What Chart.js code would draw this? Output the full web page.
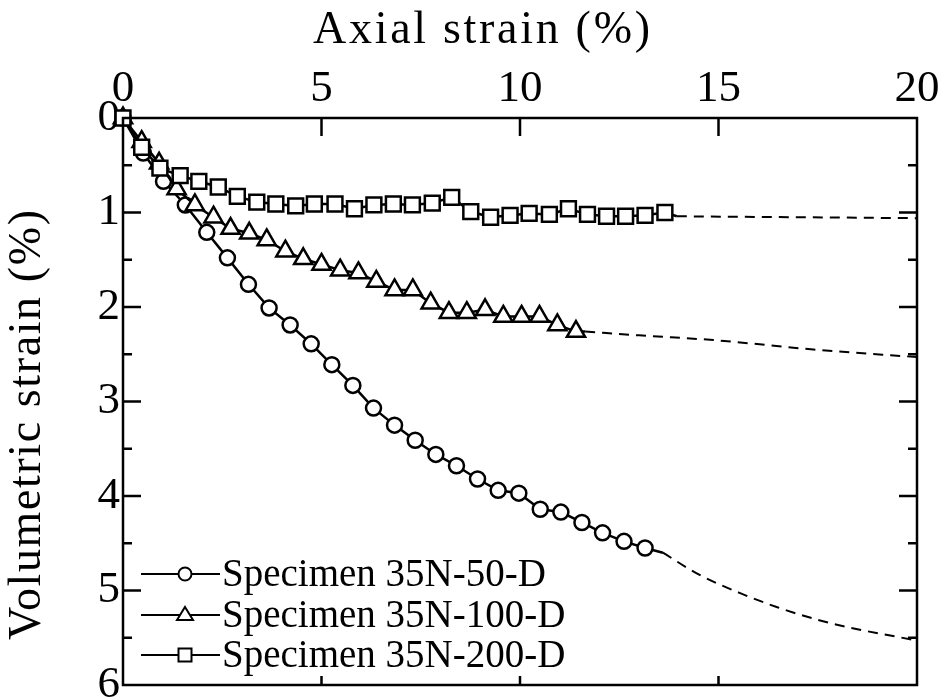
<!DOCTYPE html>
<html>
<head>
<meta charset="utf-8">
<script src="https://cdn.jsdelivr.net/npm/chart.js@4/dist/chart.umd.min.js"></script>
<style>
 body { margin: 0; background: #fff; }
 #wrap { width: 946px; height: 700px; position: relative; }
</style>
</head>
<body>
<div id="wrap"><canvas id="strainChart"></canvas></div>
<script>
// values (axial strain %, volumetric strain %)
var xTickLabels = ["0", "5", "10", "15", "20"];
var yTickLabels = ["0", "1", "2", "3", "4", "5", "6"];
var xTitle = "Axial strain (%)";
var yTitle = "Volumetric strain (%)";

var labels50 = "Specimen 35N-50-D";
var axial50 = [0, 0.51, 1.02, 1.57, 2.11, 2.63, 3.16, 3.68, 4.21, 4.74, 5.26, 5.79, 6.31, 6.84, 7.36, 7.88, 8.40, 8.93, 9.45, 9.97, 10.51, 11.03, 11.56, 12.08, 12.62, 13.15, 13.6];
var vol50 = [0, 0.37, 0.67, 0.92, 1.21, 1.48, 1.76, 2.01, 2.19, 2.39, 2.61, 2.83, 3.07, 3.25, 3.41, 3.56, 3.68, 3.82, 3.94, 3.97, 4.14, 4.17, 4.28, 4.39, 4.48, 4.55, 4.60];
var trendAxial50 = [13.6, 14.5, 15.5, 16.5, 17.5, 18.5, 19.5, 20];
var trendVol50 = [4.60, 4.83, 5.02, 5.18, 5.31, 5.41, 5.49, 5.53];

var labels100 = "Specimen 35N-100-D";
var axial100 = [0, 0.47, 0.91, 1.35, 1.81, 2.28, 2.71, 3.18, 3.62, 4.09, 4.54, 5.00, 5.47, 5.93, 6.38, 6.84, 7.30, 7.75, 8.21, 8.66, 9.12, 9.58, 10.04, 10.49, 10.94, 11.41, 11.64];
var vol100 = [0, 0.25, 0.48, 0.75, 0.92, 1.05, 1.17, 1.22, 1.29, 1.41, 1.49, 1.55, 1.61, 1.64, 1.73, 1.82, 1.82, 1.96, 2.06, 2.06, 2.03, 2.10, 2.10, 2.10, 2.19, 2.26, 2.26];
var trendAxial100 = [11.64, 13.0, 14.87, 17.39, 20];
var trendVol100 = [2.26, 2.30, 2.35, 2.45, 2.53];

var labels200 = "Specimen 35N-200-D";
var axial200 = [0, 0.47, 0.93, 1.44, 1.91, 2.40, 2.88, 3.37, 3.85, 4.35, 4.82, 5.34, 5.83, 6.32, 6.81, 7.29, 7.79, 8.28, 8.76, 9.26, 9.75, 10.23, 10.74, 11.22, 11.70, 12.18, 12.66, 13.15, 13.65, 13.95];
var vol200 = [0, 0.31, 0.53, 0.61, 0.67, 0.73, 0.83, 0.89, 0.91, 0.93, 0.91, 0.91, 0.96, 0.92, 0.91, 0.92, 0.90, 0.84, 0.99, 1.05, 1.03, 1.01, 1.02, 0.96, 1.02, 1.04, 1.04, 1.03, 1.00, 1.04];
var trendAxial200 = [13.95, 20];
var trendVol200 = [1.04, 1.06];

var serif = "'Liberation Serif', 'Times New Roman', serif";

function toPoints(xs, ys) {
 return xs.map(function (x, i) {
  return { x: x, y: ys[i] };
 });
}

// last point of each measured series is the end of the line, no marker
function markerSize(size) {
 return function (ctx) {
  var n = ctx.dataset.data.length;
  return ctx.dataIndex === n - 1 ? 0 : size;
 };
}

function measured(label, xs, ys, style, size, order) {
 return {
  label: label,
  data: toPoints(xs, ys),
  borderColor: "#000",
  borderWidth: 2.5,
  pointStyle: style,
  pointRadius: markerSize(size),
  pointBackgroundColor: "#fff",
  pointBorderColor: "#000",
  pointBorderWidth: 2.5,
  order: order,
  clip: false,
 };
}

function trend(xs, ys) {
 return {
  label: "",
  data: toPoints(xs, ys),
  borderColor: "#000",
  borderWidth: 2,
  borderDash: [10, 7],
  pointRadius: 0,
  cubicInterpolationMode: "monotone",
  order: 4,
  clip: false,
 };
}

// draw text spread to a given width
function spreadText(ctx, text, x, y, width) {
 ctx.letterSpacing = "0px";
 var natural = ctx.measureText(text).width;
 var gap = Math.max(0, (width - natural) / (text.length - 1));
 ctx.letterSpacing = gap + "px";
 ctx.fillText(text, x, y);
 ctx.letterSpacing = "0px";
}

// frame with inward ticks, axis titles and legend inside the plot
var framePlugin = {
 id: "frame",
 afterDatasetsDraw: function (chart) {
  var ctx = chart.ctx;
  var a = chart.chartArea;
  var xs = chart.scales.x;
  var ys = chart.scales.y;
  ctx.save();
  ctx.strokeStyle = "#000";
  ctx.lineWidth = 2.5;
  ctx.strokeRect(a.left, a.top, a.right - a.left, a.bottom - a.top);

  ctx.beginPath();
  for (var v = 5; v < 20; v += 5) {
   var px = xs.getPixelForValue(v);
   ctx.moveTo(px, a.top);
   ctx.lineTo(px, a.top + 18);
   ctx.moveTo(px, a.bottom);
   ctx.lineTo(px, a.bottom - 9);
  }
  for (var w = 0.5; w < 6; w += 0.5) {
   var py = ys.getPixelForValue(w);
   var len = (w % 1 === 0) ? 18 : 9;
   ctx.moveTo(a.left, py);
   ctx.lineTo(a.left + len, py);
   ctx.moveTo(a.right, py);
   ctx.lineTo(a.right - len, py);
  }
  ctx.stroke();

  // axis titles
  ctx.fillStyle = "#000";
  ctx.font = "46px " + serif;
  ctx.textBaseline = "middle";
  ctx.textAlign = "left";
  spreadText(ctx, xTitle, 313, 31, 337);
  ctx.save();
  ctx.translate(28, 640);
  ctx.rotate(-Math.PI / 2);
  spreadText(ctx, yTitle, 0, 0, 430);
  ctx.restore();

  // legend
  var rows = [
   { text: labels50, style: "circle", y: 574 },
   { text: labels100, style: "triangle", y: 615 },
   { text: labels200, style: "rect", y: 655 },
  ];
  ctx.font = "39px " + serif;
  ctx.lineWidth = 2;
  rows.forEach(function (r) {
   ctx.beginPath();
   ctx.moveTo(141, r.y);
   ctx.lineTo(220, r.y);
   ctx.stroke();
   var cx = 185;
   ctx.beginPath();
   if (r.style === "circle") {
    ctx.arc(cx, r.y, 6.5, 0, Math.PI * 2);
   } else if (r.style === "triangle") {
    ctx.moveTo(cx, r.y - 8);
    ctx.lineTo(cx + 8, r.y + 5);
    ctx.lineTo(cx - 8, r.y + 5);
    ctx.closePath();
   } else {
    ctx.rect(cx - 6.5, r.y - 6.5, 13, 13);
   }
   ctx.fillStyle = "#fff";
   ctx.fill();
   ctx.stroke();
   ctx.fillStyle = "#000";
   ctx.fillText(r.text, 222, r.y + 2);
  });
  ctx.restore();
 },
};

new Chart(document.getElementById("strainChart"), {
 type: "line",
 data: {
  datasets: [
   measured(labels50, axial50, vol50, "circle", 7.5, 3),
   measured(labels100, axial100, vol100, "triangle", 10.5, 2),
   measured(labels200, axial200, vol200, "rect", 10.5, 1),
   trend(trendAxial50, trendVol50),
   trend(trendAxial100, trendVol100),
   trend(trendAxial200, trendVol200),
  ],
 },
 options: {
  responsive: true,
  maintainAspectRatio: false,
  animation: false,
  layout: { padding: { left: 0, top: 0, right: 29, bottom: 15 } },
  plugins: {
   legend: { display: false },
   tooltip: { enabled: false },
  },
  scales: {
   x: {
    type: "linear",
    position: "top",
    min: 0,
    max: 20,
    grid: { display: false, drawTicks: false },
    border: { display: false },
    ticks: {
     stepSize: 5,
     padding: 2,
     color: "#000",
     font: { family: serif, size: 45 },
     maxRotation: 0,
     callback: function (value) {
      return xTickLabels[value / 5];
     },
    },
    afterFit: function (scale) {
     scale.height = 118;
     scale.paddingLeft = 0;
     scale.paddingRight = 0;
    },
   },
   y: {
    type: "linear",
    reverse: true,
    min: 0,
    max: 6,
    grid: { display: false, drawTicks: false },
    border: { display: false },
    ticks: {
     stepSize: 1,
     padding: 3,
     color: "#000",
     font: { family: serif, size: 45 },
     callback: function (value) {
      return yTickLabels[value];
     },
    },
    afterFit: function (scale) {
     scale.width = 123;
     scale.paddingTop = 0;
     scale.paddingBottom = 0;
    },
   },
  },
 },
 plugins: [framePlugin],
});
</script>
</body>
</html>
